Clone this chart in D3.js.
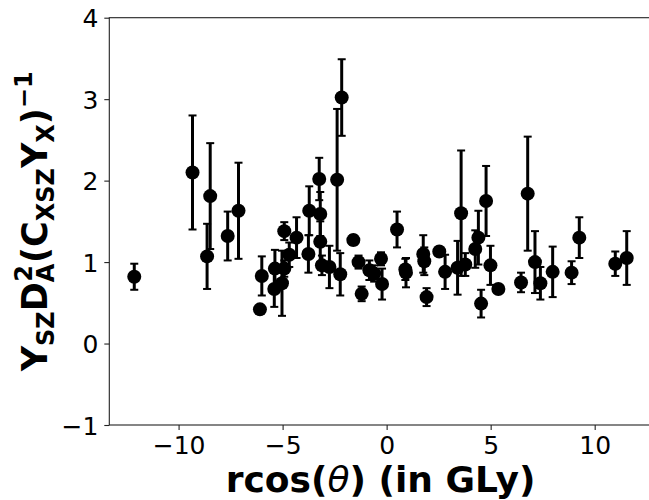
<!DOCTYPE html>
<html>
<head>
<meta charset="utf-8">
<script src="https://cdn.jsdelivr.net/npm/d3@7"></script>
<style>
  body { margin: 0; background: #fff; }
  svg { display: block; font-family: "DejaVu Sans", sans-serif; }
</style>
</head>
<body>
<div id="chart"></div>
<script>
// values
const xVals = [-12.13, -9.33, -8.48, -8.63, -7.64, -7.12, -6.00, -6.09, -5.37, -5.40,
  -5.03, -4.92, -4.68, -4.92, -4.33, -3.76, -3.72, -3.24, -3.19, -3.19,
  -3.11, -2.75, -2.38, -2.16, -2.23, -1.60, -1.35, -1.20, -0.83, -0.60,
  -0.27, -0.22, 0.50, 0.90, 0.93, 1.76, 1.81, 1.92, 2.53, 2.81,
  3.41, 3.58, 3.78, 4.26, 4.41, 4.78, 4.54, 4.99, 5.37, 6.46,
  6.78, 7.13, 7.39, 7.98, 8.89, 9.26, 10.99, 11.54];
const yVals = [0.82, 2.10, 1.81, 1.07, 1.32, 1.63, 0.83, 0.42, 0.92, 0.67,
  0.74, 1.38, 1.09, 0.92, 1.30, 1.10, 1.63, 2.02, 1.59, 1.25,
  0.96, 0.94, 2.01, 3.02, 0.85, 1.27, 1.00, 0.61, 0.90, 0.86,
  1.04, 0.73, 1.40, 0.91, 0.87, 1.10, 1.01, 0.57, 1.13, 0.88,
  0.93, 1.60, 0.97, 1.16, 1.30, 1.75, 0.49, 0.96, 0.67, 0.75,
  1.84, 1.00, 0.74, 0.88, 0.87, 1.30, 0.98, 1.05];
const yErr = [0.16, 0.70, 0.65, 0.40, 0.30, 0.59, 0.24, 0.02, 0.23, 0.22,
  0.40, 0.11, 0.15, 0.10, 0.25, 0.23, 0.30, 0.26, 0.27, 0.25,
  0.12, 0.26, 0.87, 0.47, 0.26, 0.06, 0.08, 0.09, 0.12, 0.10,
  0.08, 0.19, 0.22, 0.13, 0.18, 0.23, 0.17, 0.11, 0.05, 0.21,
  0.33, 0.77, 0.14, 0.23, 0.33, 0.43, 0.17, 0.24, 0.03, 0.12,
  0.70, 0.38, 0.20, 0.31, 0.14, 0.25, 0.15, 0.33];
const xTicks = [-10, -5, 0, 5, 10];
const yTicks = [-1, 0, 1, 2, 3, 4];

const width = 649, height = 500;
const plotL = 109.3, plotR = 651.9, plotT = 17.7, plotB = 425;

const svg = d3.select('#chart').append('svg')
  .attr('width', width)
  .attr('height', height);

const x = d3.scaleLinear().domain([-13.33, 12.75]).range([plotL, plotR]);
const y = d3.scaleLinear().domain([-1, 4]).range([plotB, plotT]);

const fmt = d => (d < 0 ? '\u2212' + Math.abs(d) : '' + d);

// axes
const xAxis = svg.append('g')
  .attr('transform', `translate(0,${plotB})`)
  .call(d3.axisBottom(x).tickValues(xTicks).tickFormat(fmt).tickSize(5).tickPadding(6));
const yAxis = svg.append('g')
  .attr('transform', `translate(${plotL},0)`)
  .call(d3.axisLeft(y).tickValues(yTicks).tickFormat(fmt).tickSize(5).tickPadding(6));

[xAxis, yAxis].forEach(a => {
  a.select('.domain').remove();
  a.selectAll('line').attr('stroke', '#222').attr('stroke-width', 1.1);
  a.selectAll('text').attr('fill', '#000').style('font-size', '25px')
    .style('font-family', '"DejaVu Sans", sans-serif');
});
yAxis.selectAll('text').attr('dy', '0.36em');

// frame
svg.append('rect')
  .attr('x', plotL).attr('y', plotT)
  .attr('width', plotR - plotL).attr('height', plotB - plotT)
  .attr('fill', 'none').attr('stroke', '#222').attr('stroke-width', 1.1);

const pts = xVals.map((d, i) => ({ x: d, y: yVals[i], e: yErr[i] }));

// error bars
const bars = svg.append('g').selectAll('g').data(pts).enter().append('g');
bars.append('line')
  .attr('x1', d => x(d.x)).attr('x2', d => x(d.x))
  .attr('y1', d => y(d.y - d.e)).attr('y2', d => y(d.y + d.e))
  .attr('stroke', '#000').attr('stroke-width', 3);
[-1, 1].forEach(s => {
  bars.append('line')
    .attr('x1', d => x(d.x) - 4).attr('x2', d => x(d.x) + 4)
    .attr('y1', d => y(d.y + s * d.e)).attr('y2', d => y(d.y + s * d.e))
    .attr('stroke', '#000').attr('stroke-width', 2);
});

// markers
svg.append('g').selectAll('circle').data(pts).enter().append('circle')
  .attr('cx', d => x(d.x)).attr('cy', d => y(d.y))
  .attr('r', 7).attr('fill', '#000');

// x label
const xl = svg.append('text')
  .attr('x', (plotL + plotR) / 2).attr('y', 492)
  .attr('text-anchor', 'middle')
  .style('font-size', '36px').style('font-weight', 'bold');
xl.append('tspan').text('rcos(');
xl.append('tspan').text('\u03b8').style('font-style', 'italic').style('font-weight', 'normal');
xl.append('tspan').text(') (in GLy)');

// y label
const yl = svg.append('text')
  .attr('transform', `translate(47,${(plotT + plotB) / 2}) rotate(-90)`)
  .attr('text-anchor', 'middle')
  .style('font-weight', 'bold');
const big = '35px', small = '24px';
yl.append('tspan').text('Y').style('font-size', big);
yl.append('tspan').text('SZ').style('font-size', small).attr('dy', 7);
yl.append('tspan').text('D').style('font-size', big).attr('dy', -7);
yl.append('tspan').text('A').style('font-size', small).attr('dy', 7);
yl.append('tspan').text('2').style('font-size', small).attr('dx', -18).attr('dy', -22);
yl.append('tspan').text('(C').style('font-size', big).attr('dx', 2).attr('dy', 15);
yl.append('tspan').text('XSZ').style('font-size', small).attr('dy', 7);
yl.append('tspan').text('Y').style('font-size', big).attr('dy', -7);
yl.append('tspan').text('X').style('font-size', small).attr('dy', 7);
yl.append('tspan').text(')').style('font-size', big).attr('dy', -7);
yl.append('tspan').text('\u22121').style('font-size', small).attr('dy', -15);
</script>
</body>
</html>
